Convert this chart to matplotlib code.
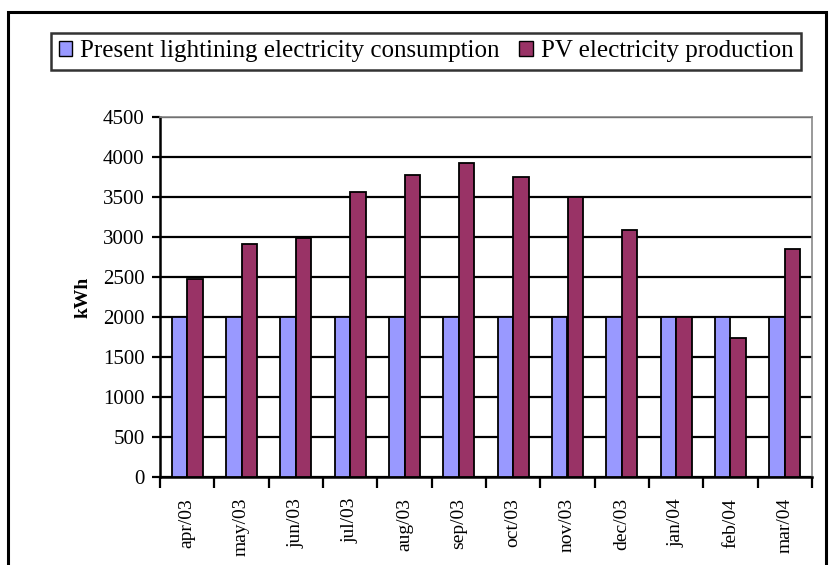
import matplotlib.pyplot as plt
import numpy as np
from matplotlib.patches import Rectangle

months = ['apr/03', 'may/03', 'jun/03', 'jul/03', 'aug/03', 'sep/03',
          'oct/03', 'nov/03', 'dec/03', 'jan/04', 'feb/04', 'mar/04']
consumption = [2000, 2000, 2000, 2000, 2000, 2000,
               2000, 2000, 2000, 2000, 2000, 2000]
pv_production = [2475, 2910, 2985, 3565, 3780, 3930,
                 3755, 3500, 3090, 2000, 1740, 2850]
yticks = [0, 500, 1000, 1500, 2000, 2500, 3000, 3500, 4000, 4500]

plt.rcParams['font.family'] = ['Liberation Serif', 'DejaVu Serif']

fig = plt.figure(figsize=(8.31, 5.65), dpi=100)
ax = fig.add_axes([160 / 831, 1 - 477 / 565, 652 / 831, 360 / 565])

x = np.arange(len(months))
w = 0.286
ax.bar(x - w / 2, consumption, w, color='#9999FF', edgecolor='black',
       linewidth=1.3, label='Present lightining electricity consumption', zorder=3)
ax.bar(x + w / 2, pv_production, w, color='#993366', edgecolor='black',
       linewidth=1.3, label='PV electricity production', zorder=3)

ax.set_xlim(-0.5, len(months) - 0.5)
ax.set_ylim(0, 4500)
ax.set_yticks(yticks)
ax.set_yticklabels([str(v) for v in yticks], fontsize=15)
ax.yaxis.grid(True, color='black', linewidth=1.6, zorder=0)
ax.set_axisbelow(True)

# category labels centred, tick marks on the boundaries
ax.set_xticks(x)
ax.set_xticklabels(months, rotation=90, fontsize=14, va='top')
ax.tick_params(axis='x', which='major', length=0, pad=15)
ax.set_xticks(np.arange(-0.5, len(months)), minor=True)
ax.tick_params(axis='x', which='minor', length=8, width=1.6, direction='out')
ax.tick_params(axis='y', length=6, width=1.6, direction='out', pad=5)

for side in ['left', 'bottom']:
    ax.spines[side].set_linewidth(1.8)
for side in ['top', 'right']:
    ax.spines[side].set_color('#888888')
    ax.spines[side].set_linewidth(1.2)

ax.set_ylabel('kWh', fontsize=14, fontweight='bold', labelpad=8)

leg = fig.legend(loc='center', bbox_to_anchor=(426 / 831, 1 - 51 / 565),
                 ncol=2, fontsize=18, frameon=True, fancybox=False,
                 handlelength=0.55, handleheight=0.55, handletextpad=0.3,
                 columnspacing=0.8, borderpad=0.3, borderaxespad=0)
leg.get_frame().set_edgecolor('black')
leg.get_frame().set_linewidth(1.8)
for p in leg.get_patches():
    p.set_linewidth(1.0)

# outer chart border
fig.patches.append(Rectangle((8 / 831, -0.05), 818 / 831, 1.05 - 12 / 565,
                             transform=fig.transFigure, fill=False,
                             edgecolor='black', linewidth=2.2))

fig.savefig('out.png', dpi=100)
